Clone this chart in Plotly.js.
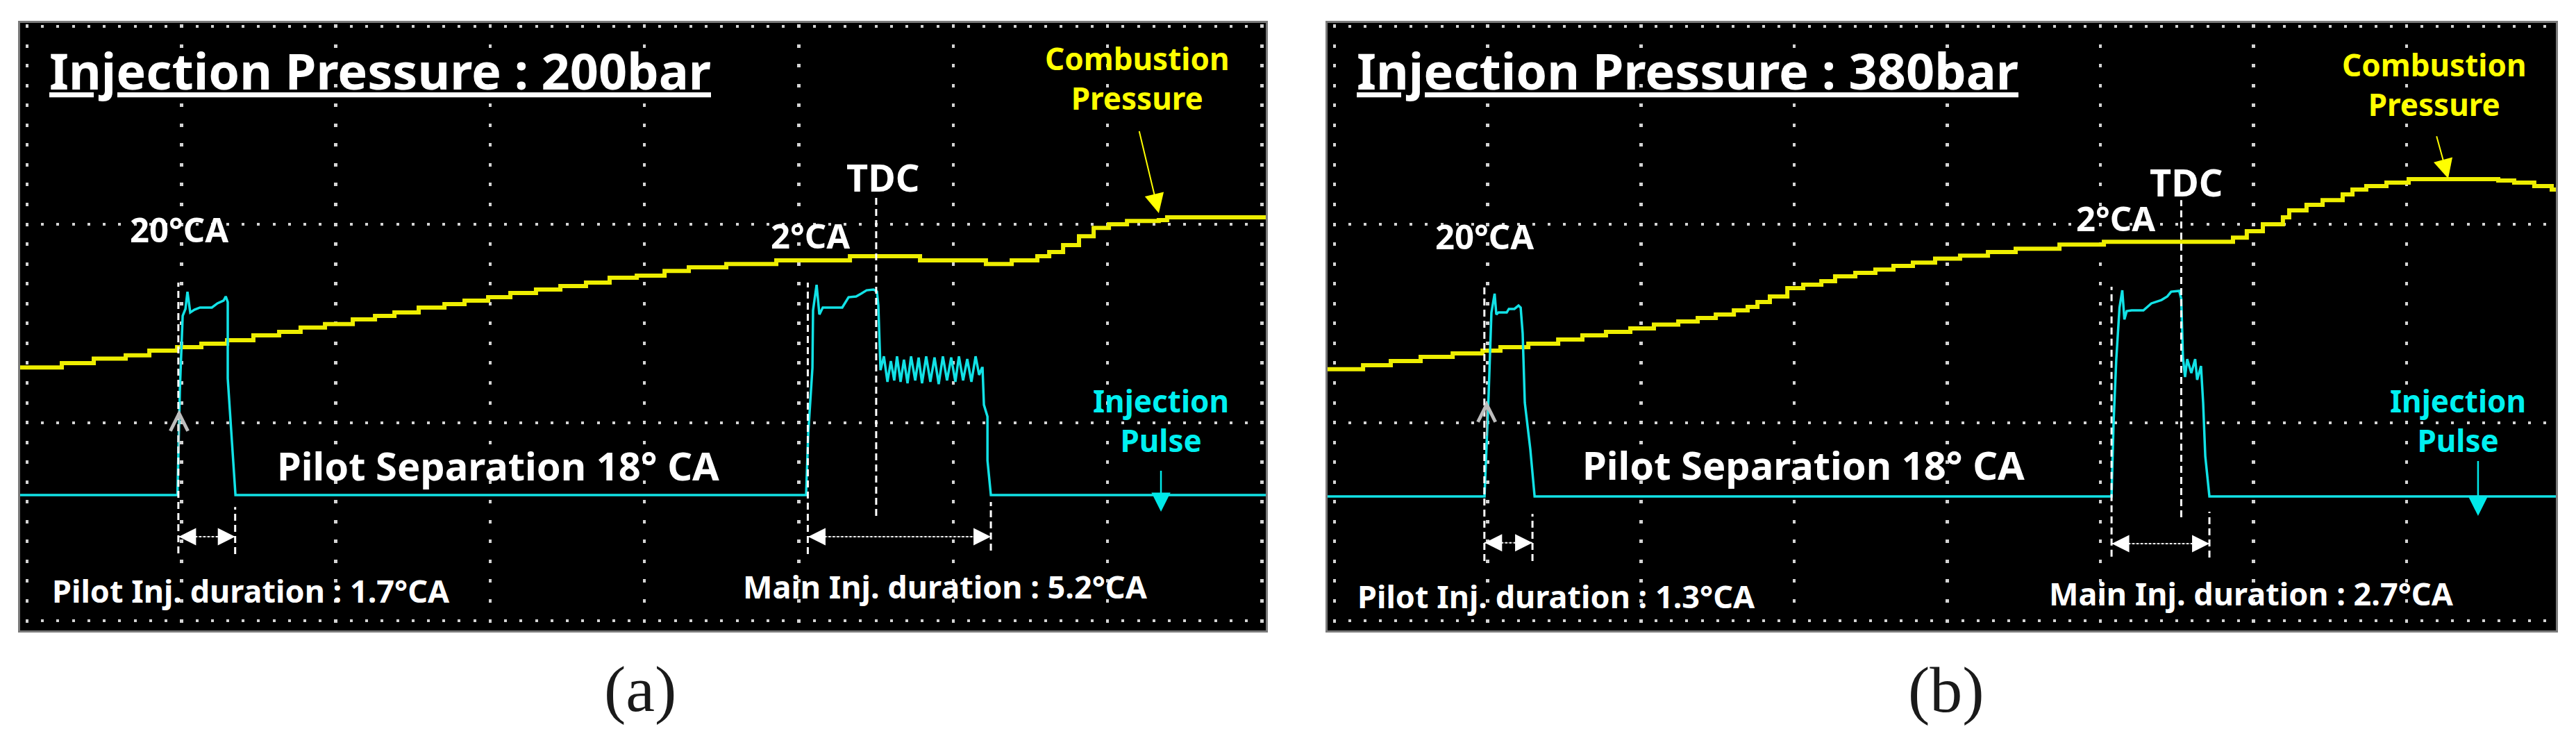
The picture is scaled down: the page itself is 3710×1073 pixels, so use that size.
<!DOCTYPE html>
<html><head><meta charset="utf-8">
<script src="https://cdn.plot.ly/plotly-3.0.1.min.js"></script>
<style>html,body{margin:0;padding:0;background:#fff;}#chart{width:3710px;height:1073px;}</style>
</head><body><div id="chart"></div>
<script>
// ---- Data (units: oscilloscope divisions; x = time div, y = vertical div) ----
// Panel (a): injection pressure 200 bar
const yellowA_x = [-0.045, 0.225, 0.432, 0.639, 0.792, 0.972, 1.129, 1.296, 1.466, 1.633, 1.772, 1.930, 2.110, 2.254, 2.380, 2.537, 2.704, 2.834, 2.987, 3.131, 3.297, 3.455, 3.621, 3.774, 3.950, 4.130, 4.287, 4.530, 4.854, 5.331, 5.785, 6.212, 6.379, 6.545, 6.622, 6.712, 6.815, 6.910, 7.009, 7.126, 7.332, 7.386, 8.025];
const yellowA_y = [1.278, 1.300, 1.322, 1.339, 1.363, 1.380, 1.398, 1.415, 1.440, 1.457, 1.479, 1.497, 1.520, 1.538, 1.555, 1.580, 1.597, 1.615, 1.632, 1.653, 1.671, 1.688, 1.706, 1.730, 1.741, 1.765, 1.783, 1.800, 1.818, 1.839, 1.818, 1.800, 1.818, 1.839, 1.860, 1.895, 1.940, 1.982, 2.000, 2.017, 2.021, 2.035, 2.035];

const cyanA_x = [-0.045, 0.974, 0.990, 1.008, 1.026, 1.039, 1.057, 1.084, 1.120, 1.197, 1.233, 1.273, 1.287, 1.300, 1.300, 1.323, 1.350,
  5.047, 5.061, 5.088, 5.092, 5.115, 5.133, 5.155, 5.281, 5.322, 5.371, 5.403, 5.439, 5.484, 5.506, 5.515, 5.524,
  5.529, 5.551, 5.574, 5.596, 5.618, 5.636, 5.659, 5.681, 5.704, 5.727, 5.754, 5.776, 5.798, 5.825, 5.852, 5.879, 5.906, 5.933, 5.960, 5.987, 6.014, 6.037, 6.064, 6.091, 6.118, 6.145, 6.168, 6.186,
  6.190, 6.199, 6.222, 6.222, 6.244, 8.025];
const cyanA_y = [0.634, 0.634, 1.170, 1.538, 1.573, 1.660, 1.555, 1.569, 1.580, 1.580, 1.601, 1.615, 1.636, 1.608, 1.222, 0.960, 0.634,
  0.634, 0.949, 1.275, 1.566, 1.695, 1.545, 1.580, 1.580, 1.632, 1.636, 1.650, 1.667, 1.671, 1.660, 1.590, 1.380,
  1.264, 1.334, 1.205, 1.310, 1.212, 1.334, 1.205, 1.317, 1.198, 1.334, 1.212, 1.328, 1.198, 1.334, 1.205, 1.328, 1.194, 1.334, 1.212, 1.328, 1.205, 1.334, 1.212, 1.320, 1.205, 1.334, 1.240, 1.275,
  1.275, 1.089, 1.030, 0.809, 0.634, 0.634];

// Panel (b): injection pressure 380 bar
const yellowB_x = [-0.048, 0.186, 0.367, 0.562, 0.771, 0.966, 1.083, 1.265, 1.460, 1.618, 1.772, 1.931, 2.085, 2.244, 2.371, 2.489, 2.607, 2.697, 2.761, 2.842, 2.956, 3.060, 3.178, 3.268, 3.400, 3.531, 3.649, 3.776, 3.921, 4.084, 4.266, 4.447, 4.733, 5.023, 5.866, 5.956, 6.061, 6.192, 6.233, 6.346, 6.451, 6.582, 6.646, 6.736, 6.868, 7.013, 7.598, 7.702, 7.833, 7.947, 7.974];
const yellowB_y = [1.269, 1.289, 1.310, 1.331, 1.349, 1.363, 1.380, 1.398, 1.419, 1.440, 1.457, 1.475, 1.494, 1.510, 1.527, 1.545, 1.566, 1.583, 1.608, 1.636, 1.678, 1.695, 1.713, 1.737, 1.755, 1.772, 1.790, 1.807, 1.827, 1.842, 1.860, 1.877, 1.898, 1.912, 1.933, 1.965, 2.000, 2.035, 2.070, 2.098, 2.122, 2.151, 2.175, 2.193, 2.210, 2.228, 2.221, 2.210, 2.193, 2.175, 2.175];

const cyanB_x = [-0.048, 0.979, 1.006, 1.020, 1.024, 1.045, 1.056, 1.070, 1.124, 1.138, 1.174, 1.201, 1.215, 1.228, 1.242, 1.278, 1.306,
  5.073, 5.086, 5.104, 5.125, 5.143, 5.157, 5.172, 5.204, 5.281, 5.333, 5.399, 5.437, 5.462, 5.515, 5.528, 5.539, 5.553, 5.567, 5.594, 5.619, 5.632, 5.657, 5.671, 5.685, 5.712, 7.974];
const cyanB_y = [0.627, 0.627, 1.145, 1.450, 1.555, 1.650, 1.545, 1.555, 1.555, 1.573, 1.573, 1.590, 1.580, 1.450, 1.100, 0.865, 0.627,
  0.627, 0.995, 1.320, 1.580, 1.667, 1.520, 1.562, 1.566, 1.566, 1.601, 1.618, 1.636, 1.660, 1.664, 1.625, 1.330, 1.229, 1.320, 1.250, 1.320, 1.215, 1.285, 1.100, 0.830, 0.627, 0.627];

// Cursor (dashed) lines: x, bottom y, top y
const cursorA_x  = [0.980, 1.348, 5.058, 5.501, 6.244];
const cursorA_y0 = [0.340, 0.336, 0.336, 0.529, 0.354];
const cursorA_y1 = [1.706, 0.574, 1.706, 2.151, 0.599];
const cursorB_x  = [0.978, 1.292, 5.073, 5.528, 5.712];
const cursorB_y0 = [0.301, 0.301, 0.323, 0.522, 0.319];
const cursorB_y1 = [1.688, 0.539, 1.685, 2.122, 0.550];

// Duration arrows: start x, end x, y
const durA_x0 = [0.980, 5.058], durA_x1 = [1.348, 6.244], durA_y = [0.424, 0.424];
const durB_x0 = [0.978, 5.073], durB_x1 = [1.292, 5.712], durB_y = [0.393, 0.389];

// Text labels
const labelText = ['Injection Pressure : 200bar', '20°CA', '2°CA', 'TDC', 'Combustion<br>Pressure', 'Pilot Separation 18° CA', 'Injection<br>Pulse', 'Pilot Inj. duration : 1.7°CA', 'Main Inj. duration : 5.2°CA'];
const labelTextB = ['Injection Pressure : 380bar', '20°CA', '2°CA', 'TDC', 'Combustion<br>Pressure', 'Pilot Separation 18° CA', 'Injection<br>Pulse', 'Pilot Inj. duration : 1.3°CA', 'Main Inj. duration : 2.7°CA'];
const labelA_x = [0.135, 0.985, 5.073, 5.545, 7.191, 3.050, 7.346, 1.451, 5.951];
const labelA_y = [2.778, 1.974, 1.944, 2.238, 2.739, 0.785, 1.012, 0.154, 0.172];
const labelB_x = [0.135, 0.980, 5.098, 5.561, 7.180, 3.062, 7.337, 1.449, 5.984];
const labelB_y = [2.778, 1.940, 2.033, 2.214, 2.707, 0.788, 1.012, 0.126, 0.140];

// Pointer arrows: [tail x, tail y, tip x, tip y]
const combArrowA = [7.204, 2.473, 7.332, 2.056];
const combArrowB = [7.194, 2.448, 7.271, 2.231];
const injArrowA  = [7.346, 0.760, 7.346, 0.550];
const injArrowB  = [7.466, 0.809, 7.466, 0.529];
const trigA = [0.985, 0.850, 0.985, 1.065];
const trigB = [0.993, 0.930, 0.993, 1.110];

const panelCaptions = ['(a)', '(b)'];

// ---- Styles ----
const YELLOW_LINE = '#eeee00', CYAN_LINE = '#12e2e6';
const FONT = 'Noto Sans, Open Sans, DejaVu Sans, sans-serif';
const labelStyle = [
  {size: 72, color: '#ffffff', anchor: 'left', under: true},
  {size: 49, color: '#ffffff'},
  {size: 49, color: '#ffffff'},
  {size: 54, color: '#ffffff'},
  {size: 44, color: '#ffff00'},
  {size: 56, color: '#ffffff'},
  {size: 44, color: '#00f0f0'},
  {size: 45, color: '#ffffff'},
  {size: 45, color: '#ffffff'}
];

function trace(x, y, color, width, shape, xa, ya) {
  return {x: x, y: y, type: 'scatter', mode: 'lines', xaxis: xa, yaxis: ya,
    line: {color: color, width: width, shape: shape}, hoverinfo: 'skip', showlegend: false};
}

const data = [
  trace(yellowA_x, yellowA_y, YELLOW_LINE, 6, 'hv', 'x', 'y'),
  trace(cyanA_x, cyanA_y, CYAN_LINE, 3.5, 'linear', 'x', 'y'),
  trace(yellowB_x, yellowB_y, YELLOW_LINE, 6, 'hv', 'x2', 'y2'),
  trace(cyanB_x, cyanB_y, CYAN_LINE, 3.5, 'linear', 'x2', 'y2')
];

const shapes = [];
const annotations = [];

function addPanel(xref, yref, cx, cy0, cy1, dx0, dx1, dy, texts, lx, ly, comb, inj, trig) {
  for (let i = 0; i < cx.length; i++) {
    shapes.push({type: 'line', xref: xref, yref: yref, x0: cx[i], x1: cx[i], y0: cy0[i], y1: cy1[i],
      line: {color: '#ffffff', width: 3, dash: '10px,6px'}});
  }
  for (let i = 0; i < dx0.length; i++) {
    shapes.push({type: 'line', xref: xref, yref: yref, x0: dx0[i], x1: dx1[i], y0: dy[i], y1: dy[i],
      line: {color: '#ffffff', width: 2, dash: '3px,3px'}});
    annotations.push({xref: xref, yref: yref, axref: xref, ayref: yref,
      x: dx1[i], y: dy[i], ax: dx0[i], ay: dy[i], text: ' ', font: {size: 1}, borderpad: 0,
      showarrow: true, arrowside: 'end+start', arrowhead: 2, startarrowhead: 2,
      arrowwidth: 0.5, arrowsize: 10, startarrowsize: 10, arrowcolor: '#ffffff', standoff: 0, startstandoff: 0});
  }
  for (let i = 0; i < texts.length; i++) {
    const st = labelStyle[i];
    annotations.push({xref: xref, yref: yref, x: lx[i], y: ly[i], text: texts[i], showarrow: false,
      xanchor: st.anchor || 'center', yanchor: 'middle', align: 'center',
      font: {family: FONT, size: st.size, color: st.color, weight: 700, lineposition: st.under ? 'under' : 'none'}});
  }
  annotations.push({xref: xref, yref: yref, axref: xref, ayref: yref, x: comb[2], y: comb[3], ax: comb[0], ay: comb[1],
    text: ' ', font: {size: 1}, borderpad: 0, showarrow: true, arrowhead: 2, arrowsize: 2.8, arrowwidth: 2,
    arrowcolor: '#ffff00', standoff: 0});
  annotations.push({xref: xref, yref: yref, axref: xref, ayref: yref, x: inj[2], y: inj[3], ax: inj[0], ay: inj[1],
    text: ' ', font: {size: 1}, borderpad: 0, showarrow: true, arrowhead: 2, arrowsize: 2.2, arrowwidth: 2.5,
    arrowcolor: '#00e8e8', standoff: 0});
  annotations.push({xref: xref, yref: yref, axref: xref, ayref: yref, x: trig[2], y: trig[3], ax: trig[0], ay: trig[1],
    text: ' ', font: {size: 1}, borderpad: 0, showarrow: true, arrowhead: 5, arrowsize: 3.3, arrowwidth: 1.5,
    arrowcolor: '#bdbdbd', standoff: 0});
}

addPanel('x', 'y', cursorA_x, cursorA_y0, cursorA_y1, durA_x0, durA_x1, durA_y, labelText, labelA_x, labelA_y, combArrowA, injArrowA, trigA);
addPanel('x2', 'y2', cursorB_x, cursorB_y0, cursorB_y1, durB_x0, durB_x1, durB_y, labelTextB, labelB_x, labelB_y, combArrowB, injArrowB, trigB);

annotations.push({xref: 'paper', yref: 'paper', x: 0.2484, y: 0.0755, text: panelCaptions[0], showarrow: false,
  xanchor: 'center', yanchor: 'middle', font: {family: 'Liberation Serif, DejaVu Serif, serif', size: 94, color: '#1a1a1a'}});
annotations.push({xref: 'paper', yref: 'paper', x: 0.7555, y: 0.0745, text: panelCaptions[1], showarrow: false,
  xanchor: 'center', yanchor: 'middle', font: {family: 'Liberation Serif, DejaVu Serif, serif', size: 94, color: '#1a1a1a'}});

function xAxis(domain, range, hdash, anchor) {
  return {domain: domain, range: range, anchor: anchor, tick0: 0, dtick: 1, showgrid: true,
    gridcolor: '#d4d4d4', gridwidth: 4.5, griddash: hdash, zeroline: false, showticklabels: false, ticks: '',
    showline: true, mirror: true, linecolor: '#7a7a7a', linewidth: 3, fixedrange: true};
}
function yAxis(domain, range, vdash, anchor) {
  return {domain: domain, range: range, anchor: anchor, tick0: 0, dtick: 1, showgrid: true,
    gridcolor: '#d4d4d4', gridwidth: 4, griddash: vdash, zeroline: false, showticklabels: false, ticks: '',
    showline: true, mirror: true, linecolor: '#7a7a7a', linewidth: 3, fixedrange: true};
}

const layout = {
  width: 3710, height: 1073, margin: {l: 0, r: 0, t: 0, b: 0},
  paper_bgcolor: '#ffffff', plot_bgcolor: '#000000', showlegend: false,
  xaxis: xAxis([0.00782, 0.49137], [-0.045, 8.025], '0px,2.1px,5px,21.45px', 'y'),
  yaxis: yAxis([0.15377, 0.96925], [-0.049, 3.016], '0px,8px,4px,10.23px', 'x'),
  xaxis2: xAxis([0.51523, 0.99218], [-0.048, 7.974], '0px,2.1px,5px,21.45px', 'y2'),
  yaxis2: yAxis([0.15377, 0.96925], [-0.049, 3.016], '0px,8.6px,4px,9.46px', 'x2'),
  shapes: shapes,
  annotations: annotations
};

Plotly.newPlot('chart', data, layout, {staticPlot: true, displayModeBar: false});
</script></body></html>
